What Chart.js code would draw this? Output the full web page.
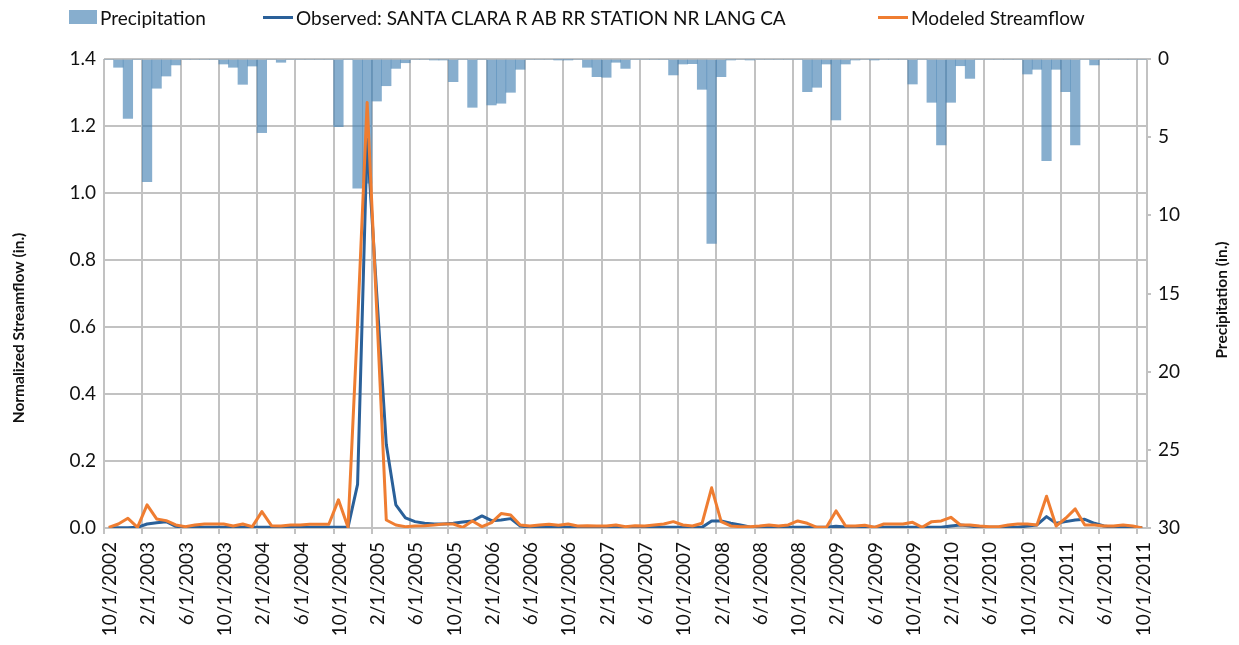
<!DOCTYPE html>
<html>
<head>
<meta charset="utf-8">
<title>Santa Clara River streamflow</title>
<script src="https://cdn.jsdelivr.net/npm/chart.js@4.4.0/dist/chart.umd.min.js"></script>
<style>
    body { margin: 0; background: #fff; }
    #wrap { position: relative; width: 1239px; height: 645px; }
    #legend { position: absolute; top: 0; left: 0; width: 100%; height: 34px; font: 19px Lato, sans-serif; color: #111; }
    .legend-item { position: absolute; top: 0; height: 34px; display: flex; align-items: center; white-space: nowrap; }
    .legend-swatch { display: inline-block; margin-right: 3px; }
</style>
</head>
<body>
<div id="wrap">
    <canvas id="flowChart"></canvas>
    <div id="legend"></div>
</div>
<script>
// Monthly values, Oct 2002 - Oct 2011, one row per water year (Oct - Sep)

// Precipitation (in.)
const precipitation = [
    0, 0.53, 3.8, 0, 7.84, 1.87, 1.09, 0.38, 0, 0, 0, 0,
    0.32, 0.53, 1.62, 0.45, 4.71, 0, 0.21, 0, 0, 0, 0, 0,
    4.33, 0, 8.27, 7.95, 2.69, 1.71, 0.6, 0.24, 0, 0, 0.05, 0.05,
    1.45, 0, 3.09, 0, 2.94, 2.83, 2.13, 0.66, 0, 0, 0, 0.04,
    0.04, 0, 0.53, 1.13, 1.17, 0.21, 0.6, 0, 0, 0, 0, 1.02,
    0.32, 0.3, 1.94, 11.8, 1.13, 0.05, 0, 0.05, 0, 0, 0, 0,
    0, 2.09, 1.81, 0.32, 3.9, 0.32, 0.05, 0, 0.04, 0, 0, 0,
    1.6, 0, 2.77, 5.5, 2.77, 0.43, 1.24, 0, 0, 0, 0, 0,
    0.96, 0.66, 6.5, 0.66, 2.09, 5.5, 0, 0.38, 0, 0, 0, 0,
    0
];

// Observed streamflow, normalized (in.)
const observed = [
    0.001, 0.001, 0.001, 0.002, 0.012, 0.016, 0.019, 0.005, 0.002, 0.002, 0.002, 0.002,
    0.002, 0.002, 0.002, 0.002, 0.002, 0.002, 0.002, 0.002, 0.002, 0.002, 0.002, 0.002,
    0.002, 0.002, 0.13, 1.16, 0.70, 0.25, 0.069, 0.03, 0.019, 0.014, 0.012, 0.012,
    0.014, 0.018, 0.021, 0.036, 0.022, 0.024, 0.028, 0.006, 0.002, 0.002, 0.002, 0.002,
    0.002, 0.002, 0.002, 0.002, 0.002, 0.002, 0.002, 0.002, 0.002, 0.002, 0.002, 0.002,
    0.002, 0.002, 0.002, 0.021, 0.021, 0.014, 0.009, 0.003, 0.002, 0.002, 0.002, 0.002,
    0.002, 0.002, 0.002, 0.002, 0.005, 0.003, 0.002, 0.002, 0.002, 0.002, 0.002, 0.002,
    0.002, 0.002, 0.002, 0.002, 0.006, 0.009, 0.006, 0.002, 0.002, 0.002, 0.002, 0.002,
    0.006, 0.009, 0.034, 0.014, 0.019, 0.024, 0.026, 0.014, 0.006, 0.002, 0.002, 0.002,
    0.001
];

// Modeled streamflow, normalized (in.)
const modeled = [
    0.002, 0.012, 0.029, 0.002, 0.069, 0.027, 0.022, 0.009, 0.004, 0.009, 0.012, 0.012,
    0.012, 0.006, 0.012, 0.004, 0.049, 0.007, 0.006, 0.009, 0.009, 0.011, 0.011, 0.011,
    0.084, 0.002, 0.61, 1.27, 0.65, 0.024, 0.009, 0.004, 0.006, 0.007, 0.009, 0.012,
    0.012, 0.002, 0.021, 0.004, 0.016, 0.043, 0.039, 0.009, 0.006, 0.009, 0.011, 0.008,
    0.012, 0.006, 0.007, 0.006, 0.006, 0.009, 0.004, 0.007, 0.006, 0.009, 0.012, 0.019,
    0.009, 0.006, 0.014, 0.12, 0.019, 0.006, 0.004, 0.004, 0.006, 0.009, 0.006, 0.009,
    0.021, 0.014, 0.002, 0.002, 0.051, 0.006, 0.006, 0.008, 0.002, 0.012, 0.012, 0.012,
    0.017, 0.002, 0.019, 0.021, 0.032, 0.009, 0.009, 0.006, 0.004, 0.004, 0.009, 0.012,
    0.012, 0.009, 0.095, 0.006, 0.029, 0.057, 0.009, 0.009, 0.006, 0.006, 0.009, 0.006,
    0
];

// Date axis labels, every 4 months
const tickLabels = [
    '10/1/2002', '2/1/2003', '6/1/2003', '10/1/2003', '2/1/2004', '6/1/2004',
    '10/1/2004', '2/1/2005', '6/1/2005', '10/1/2005', '2/1/2006', '6/1/2006',
    '10/1/2006', '2/1/2007', '6/1/2007', '10/1/2007', '2/1/2008', '6/1/2008',
    '10/1/2008', '2/1/2009', '6/1/2009', '10/1/2009', '2/1/2010', '6/1/2010',
    '10/1/2010', '2/1/2011', '6/1/2011', '10/1/2011'
];
const monthsPerTick = 4;

const precipColor = 'rgba(70, 130, 180, 0.65)';
const observedColor = '#2a6099';
const modeledColor = '#ef7d31';
const gridColor = '#c2c2c2';
const textColor = '#111';

// each month sits in the middle of its own slot on the date axis
function toPoints(values) {
    return values.map((v, i) => ({ x: i + 0.5, y: v }));
}

function buildLegend(chart) {
    const legend = document.getElementById('legend');
    const positions = [69, 263, 878];
    chart.data.datasets.forEach((ds, i) => {
        const item = document.createElement('div');
        item.className = 'legend-item';
        item.style.left = positions[i] + 'px';

        const swatch = document.createElement('span');
        swatch.className = 'legend-swatch';
        if (ds.type === 'bar') {
            swatch.style.width = '28px';
            swatch.style.height = '14px';
            swatch.style.background = ds.backgroundColor;
        } else {
            swatch.style.width = '30px';
            swatch.style.height = '3px';
            swatch.style.background = ds.borderColor;
        }

        const text = document.createElement('span');
        text.textContent = ds.label;

        item.appendChild(swatch);
        item.appendChild(text);
        legend.appendChild(item);
    });
}

// Both axis titles read bottom-to-top (Chart.js turns a right-hand title the other way)
const axisTitles = {
    id: 'axisTitles',
    afterDraw(chart, args, opts) {
        const ctx = chart.ctx;
        opts.items.forEach((t) => {
            ctx.save();
            ctx.translate(t.x, t.y);
            ctx.rotate(-Math.PI / 2);
            ctx.font = opts.font;
            ctx.fillStyle = textColor;
            ctx.textAlign = 'center';
            ctx.textBaseline = 'middle';
            ctx.fillText(t.text, 0, 0);
            ctx.restore();
        });
    }
};

Chart.defaults.font.family = 'Lato, "Open Sans", sans-serif';
Chart.defaults.color = textColor;

const tickFont = { size: 19 };

const chart = new Chart(document.getElementById('flowChart'), {
    type: 'bar',
    data: {
        datasets: [{
            type: 'bar',
            label: 'Precipitation',
            data: toPoints(precipitation),
            yAxisID: 'yPrecip',
            backgroundColor: precipColor,
            borderWidth: 0,
            barPercentage: 1,
            categoryPercentage: 1,
            order: 3
        }, {
            type: 'line',
            label: 'Observed: SANTA CLARA R AB RR STATION NR LANG CA',
            data: toPoints(observed),
            yAxisID: 'yFlow',
            borderColor: observedColor,
            borderWidth: 3,
            borderJoinStyle: 'round',
            pointRadius: 0,
            tension: 0,
            order: 2
        }, {
            type: 'line',
            label: 'Modeled Streamflow',
            data: toPoints(modeled),
            yAxisID: 'yFlow',
            borderColor: modeledColor,
            borderWidth: 3,
            borderJoinStyle: 'round',
            pointRadius: 0,
            tension: 0,
            order: 1
        }]
    },
    options: {
        responsive: true,
        maintainAspectRatio: false,
        animation: false,
        layout: {
            padding: { top: 59, left: 0, right: 0, bottom: 0 }
        },
        plugins: {
            legend: { display: false },
            tooltip: { enabled: false },
            axisTitles: {
                font: 'bold 15.5px Lato, sans-serif',
                items: [
                    { text: 'Normalized Streamflow (in.)', x: 19, y: 328 },
                    { text: 'Precipitation (in.)', x: 1222, y: 300 }
                ]
            }
        },
        scales: {
            x: {
                type: 'linear',
                min: 0,
                max: precipitation.length,
                offset: false,
                afterBuildTicks: (scale) => {
                    scale.ticks = tickLabels.map((label, k) => ({ value: k * monthsPerTick }));
                },
                afterFit: (scale) => { scale.height = 117; },
                grid: { color: gridColor, lineWidth: 2, tickLength: 6, offset: false },
                border: { color: gridColor, width: 2 },
                ticks: {
                    autoSkip: false,
                    minRotation: 90,
                    maxRotation: 90,
                    labelOffset: 6,
                    padding: 8,
                    font: tickFont,
                    callback: (value, index) => tickLabels[index]
                }
            },
            yFlow: {
                position: 'left',
                min: 0,
                max: 1.4,
                afterFit: (scale) => { scale.width = 104; },
                grid: { color: gridColor, lineWidth: 2, drawTicks: false },
                border: { display: false },
                ticks: {
                    stepSize: 0.2,
                    padding: 8,
                    font: tickFont,
                    callback: (value) => value.toFixed(1)
                }
            },
            yPrecip: {
                position: 'right',
                reverse: true,
                min: 0,
                max: 30,
                afterFit: (scale) => { scale.width = 92; },
                grid: { drawOnChartArea: false, color: gridColor, lineWidth: 2, tickLength: 4 },
                border: { color: gridColor, width: 2 },
                ticks: {
                    stepSize: 5,
                    padding: 7,
                    font: tickFont
                }
            }
        }
    },
    plugins: [axisTitles]
});

buildLegend(chart);
</script>
</body>
</html>
